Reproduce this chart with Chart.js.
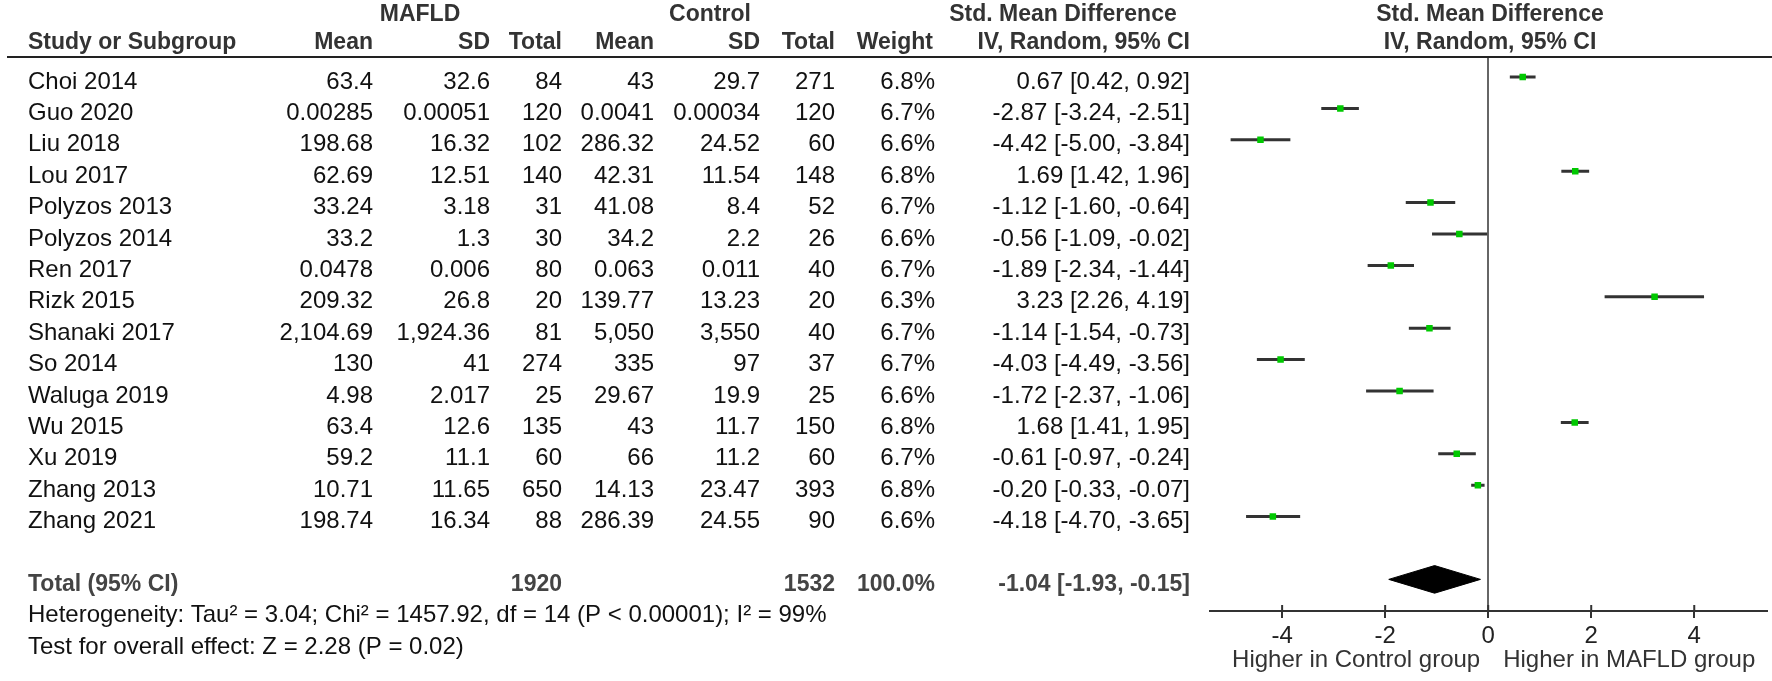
<!DOCTYPE html>
<html>
<head>
<meta charset="utf-8">
<script src="https://cdn.jsdelivr.net/npm/chart.js@4"></script>
<style>
  html, body { margin: 0; padding: 0; background: #fff; }
  canvas { display: block; }
</style>
</head>
<body>
<canvas id="myChart" width="1772" height="681"></canvas>
<script>
// study rows, top to bottom
const studies = ['Choi 2014', 'Guo 2020', 'Liu 2018', 'Lou 2017', 'Polyzos 2013', 'Polyzos 2014', 'Ren 2017',
  'Rizk 2015', 'Shanaki 2017', 'So 2014', 'Waluga 2019', 'Wu 2015', 'Xu 2019', 'Zhang 2013', 'Zhang 2021'];
const mafldMean = ['63.4', '0.00285', '198.68', '62.69', '33.24', '33.2', '0.0478', '209.32', '2,104.69', '130', '4.98', '63.4', '59.2', '10.71', '198.74'];
const mafldSD = ['32.6', '0.00051', '16.32', '12.51', '3.18', '1.3', '0.006', '26.8', '1,924.36', '41', '2.017', '12.6', '11.1', '11.65', '16.34'];
const mafldTotal = [84, 120, 102, 140, 31, 30, 80, 20, 81, 274, 25, 135, 60, 650, 88];
const controlMean = ['43', '0.0041', '286.32', '42.31', '41.08', '34.2', '0.063', '139.77', '5,050', '335', '29.67', '43', '66', '14.13', '286.39'];
const controlSD = ['29.7', '0.00034', '24.52', '11.54', '8.4', '2.2', '0.011', '13.23', '3,550', '97', '19.9', '11.7', '11.2', '23.47', '24.55'];
const controlTotal = [271, 120, 60, 148, 52, 26, 40, 20, 40, 37, 25, 150, 60, 393, 90];
const weights = [6.8, 6.7, 6.6, 6.8, 6.7, 6.6, 6.7, 6.3, 6.7, 6.7, 6.6, 6.8, 6.7, 6.8, 6.6];
const smd = [0.67, -2.87, -4.42, 1.69, -1.12, -0.56, -1.89, 3.23, -1.14, -4.03, -1.72, 1.68, -0.61, -0.20, -4.18];
const ciLow = [0.42, -3.24, -5.00, 1.42, -1.60, -1.09, -2.34, 2.26, -1.54, -4.49, -2.37, 1.41, -0.97, -0.33, -4.70];
const ciHigh = [0.92, -2.51, -3.84, 1.96, -0.64, -0.02, -1.44, 4.19, -0.73, -3.56, -1.06, 1.95, -0.24, -0.07, -3.65];

// pooled result
const totalMafld = 1920;
const totalControl = 1532;
const totalWeight = '100.0%';
const pooled = -1.04;
const pooledLow = -1.93;
const pooledHigh = -0.15;
const heterogeneity = 'Heterogeneity: Tau\u00b2 = 3.04; Chi\u00b2 = 1457.92, df = 14 (P < 0.00001); I\u00b2 = 99%';
const overallEffect = 'Test for overall effect: Z = 2.28 (P = 0.02)';

const tickValues = [-4, -2, 0, 2, 4];
const leftLabel = 'Higher in Control group';
const rightLabel = 'Higher in MAFLD group';

const TOTAL_ROW = studies.length + 1;
const FONT = '"Liberation Sans", Arial, sans-serif';

function ciText(e, lo, hi) {
  return e.toFixed(2) + ' [' + lo.toFixed(2) + ', ' + hi.toFixed(2) + ']';
}

// one short line per study for the CI whiskers
const ciSets = studies.map((s, i) => ({
  type: 'scatter',
  data: [{x: ciLow[i], y: i}, {x: ciHigh[i], y: i}],
  showLine: true,
  borderColor: '#333',
  borderWidth: 3,
  pointRadius: 0,
  order: 2
}));

const markers = {
  type: 'scatter',
  data: smd.map((v, i) => ({x: v, y: i})),
  pointStyle: 'rect',
  pointRadius: 4.6,
  backgroundColor: '#00c800',
  borderWidth: 0,
  order: 1
};

const dh = 0.44;
const diamond = {
  type: 'scatter',
  data: [
    {x: pooledLow, y: TOTAL_ROW}, {x: pooled, y: TOTAL_ROW - dh},
    {x: pooledHigh, y: TOTAL_ROW}, {x: pooled, y: TOTAL_ROW + dh},
    {x: pooledLow, y: TOTAL_ROW}
  ],
  showLine: true,
  fill: 'shape',
  backgroundColor: '#000',
  borderColor: '#000',
  borderWidth: 1,
  pointRadius: 0,
  order: 3
};

const tablePlugin = {
  id: 'table',
  afterDraw(chart) {
    const ctx = chart.ctx;
    const ys = chart.scales.y;
    const xs = chart.scales.x;
    const rowY = r => ys.getPixelForValue(r) + 5;

    ctx.save();
    ctx.textBaseline = 'middle';

    function txt(s, x, y, align, bold, color, size) {
      ctx.font = (bold ? 'bold ' : '') + (size || 24) + 'px ' + FONT;
      ctx.fillStyle = color || '#111';
      ctx.textAlign = align;
      ctx.fillText(s, x, y);
    }

    // header
    const hc = '#333';
    txt('MAFLD', 420, 15, 'center', true, hc, 23);
    txt('Control', 710, 15, 'center', true, hc, 23);
    txt('Std. Mean Difference', 1063, 15, 'center', true, hc, 23);
    txt('Std. Mean Difference', 1490, 15, 'center', true, hc, 23);
    txt('Study or Subgroup', 28, 43, 'left', true, hc, 23);
    txt('Mean', 373, 43, 'right', true, hc, 23);
    txt('SD', 490, 43, 'right', true, hc, 23);
    txt('Total', 562, 43, 'right', true, hc, 23);
    txt('Mean', 654, 43, 'right', true, hc, 23);
    txt('SD', 760, 43, 'right', true, hc, 23);
    txt('Total', 835, 43, 'right', true, hc, 23);
    txt('Weight', 933, 43, 'right', true, hc, 23);
    txt('IV, Random, 95% CI', 1190, 43, 'right', true, hc, 23);
    txt('IV, Random, 95% CI', 1490, 43, 'center', true, hc, 23);

    ctx.strokeStyle = '#222';
    ctx.lineWidth = 2;
    ctx.beginPath();
    ctx.moveTo(7, 57);
    ctx.lineTo(1772, 57);
    ctx.stroke();

    // study rows
    studies.forEach((s, i) => {
      const y = rowY(i);
      txt(s, 28, y, 'left');
      txt(mafldMean[i], 373, y, 'right');
      txt(mafldSD[i], 490, y, 'right');
      txt(String(mafldTotal[i]), 562, y, 'right');
      txt(controlMean[i], 654, y, 'right');
      txt(controlSD[i], 760, y, 'right');
      txt(String(controlTotal[i]), 835, y, 'right');
      txt(weights[i].toFixed(1) + '%', 935, y, 'right');
      txt(ciText(smd[i], ciLow[i], ciHigh[i]), 1190, y, 'right');
    });

    // total row and footnotes
    const ty = rowY(TOTAL_ROW);
    txt('Total (95% CI)', 28, ty, 'left', true, '#444', 23);
    txt(String(totalMafld), 562, ty, 'right', true, '#444', 23);
    txt(String(totalControl), 835, ty, 'right', true, '#444', 23);
    txt(totalWeight, 935, ty, 'right', true, '#444', 23);
    txt(ciText(pooled, pooledLow, pooledHigh), 1190, ty, 'right', true, '#444', 23);
    txt(heterogeneity, 28, rowY(TOTAL_ROW + 1), 'left');
    txt(overallEffect, 28, rowY(TOTAL_ROW + 2), 'left');

    // small tick stubs above the axis line
    const ay = chart.chartArea.bottom;
    ctx.strokeStyle = '#333';
    ctx.lineWidth = 2;
    tickValues.forEach(v => {
      const px = xs.getPixelForValue(v);
      ctx.beginPath();
      ctx.moveTo(px, ay - 6);
      ctx.lineTo(px, ay);
      ctx.stroke();
    });

    // direction labels under the axis
    const zx = xs.getPixelForValue(0);
    txt(leftLabel, zx - 8, 660, 'right', false, '#333', 24);
    txt(rightLabel, zx + 15, 660, 'left', false, '#333', 24);
    ctx.restore();
  }
};

const config = {
  type: 'scatter',
  data: { datasets: [...ciSets, markers, diamond] },
  options: {
    responsive: false,
    devicePixelRatio: 1,
    animation: false,
    layout: { padding: { left: 1210, right: 2, top: 57, bottom: 0 } },
    plugins: { legend: { display: false }, tooltip: { enabled: false } },
    scales: {
      x: {
        type: 'linear',
        min: -5.4,
        max: 5.42,
        afterBuildTicks: s => { s.ticks = tickValues.map(v => ({ value: v })); },
        afterFit: s => { s.height = 70; },
        grid: {
          color: c => (c.tick && c.tick.value === 0) ? '#666' : 'rgba(0,0,0,0)',
          lineWidth: 2,
          drawTicks: true,
          tickLength: 7,
          tickColor: '#333',
          tickWidth: 2
        },
        border: { display: true, color: '#333', width: 2 },
        ticks: { color: '#222', padding: 4, font: { family: FONT, size: 24 } }
      },
      y: {
        type: 'linear',
        reverse: true,
        min: -0.637,
        max: 17.007,
        display: false
      }
    }
  },
  plugins: [tablePlugin]
};

const myChart = new Chart(document.getElementById('myChart'), config);
</script>
</body>
</html>
